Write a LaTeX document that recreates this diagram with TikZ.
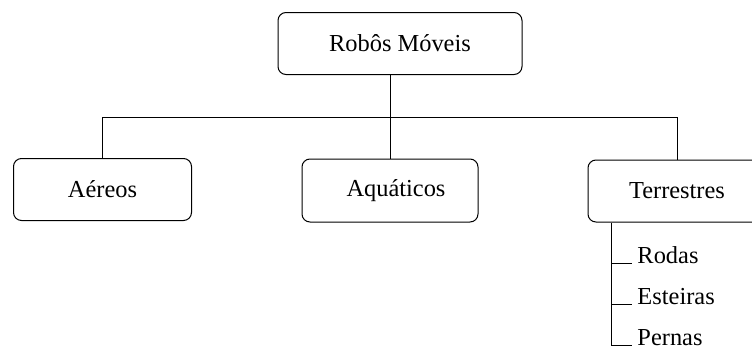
\documentclass[tikz,border=0pt]{standalone}
\usepackage{fontspec}
\setmainfont{Liberation Serif}
\usetikzlibrary{positioning}
\tikzset{
 catbox/.style={draw=black,rounded corners=4pt,line width=0.5pt,
 minimum width=89pt,minimum height=31pt,inner sep=0pt,
 font=\fontsize{12.2pt}{14pt}\selectfont},
 subitem/.style={anchor=base west,inner xsep=2.5pt,inner ysep=0pt,
 font=\fontsize{12.2pt}{14pt}\selectfont},
}
\begin{document}
\begin{tikzpicture}[x=0.5pt,y=-0.5pt,line width=0.5pt]
\useasboundingbox(0,0)rectangle(752,349);
\node[catbox,minimum width=122pt](RM)at(400,43.5){Robôs Móveis};
\node[catbox](AE)at(102.5,189.5){Aéreos};
\node[catbox,minimum width=88pt,minimum height=31.5pt](AQ)at(390,190.5){\hspace{6pt}Aquáticos};
\node[catbox](TE)at(677,191){Terrestres};
%%
\coordinate(BAR)at(0,117);
\draw[black](RM.south-|AQ.north)--(AQ.north);
\draw[black](AE.north)|-(BAR-|TE.north)--(TE.north);
%
\coordinate(ST)at(611,0);
\node[subitem](RO)at(632,263){Rodas};
\node[subitem](ES)at(632,304.5){Esteiras};
\node[subitem](PE)at(632,345.5){Pernas};
\draw[black](TE.south-|ST)|-(PE.base west);
\draw[black](RO.base west-|ST)--(RO.base west);
\draw[black](ES.base west-|ST)--(ES.base west);
\end{tikzpicture}
\end{document}
